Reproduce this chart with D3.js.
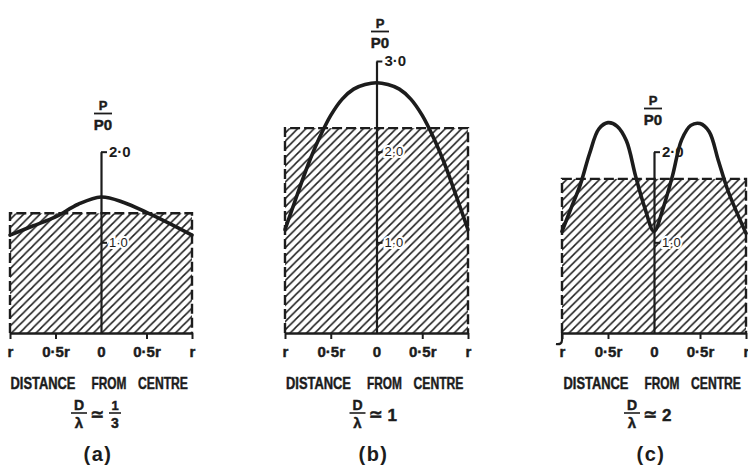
<!DOCTYPE html>
<html>
<head>
<meta charset="utf-8">
<script src="https://cdn.jsdelivr.net/npm/d3@7"></script>
<style>
  html, body { margin: 0; padding: 0; background: #fff; }
  svg { display: block; }
  text { font-family: 'Liberation Sans', 'DejaVu Sans', Arial, sans-serif; font-weight: bold; fill: #1c1c1c; }
  text.heavy { stroke: #1c1c1c; stroke-width: 0.45px; }
</style>
</head>
<body>
<svg id="chart" width="748" height="465"></svg>
<script>
// ---- data -------------------------------------------------------------
const panelNames = ["(a)", "(b)", "(c)"];
const ratioTexts = [["1", "3"], ["1"], ["2"]];          // D/λ ≃ value
const meanPower = [1.32, 2.26, 1.70];                    // height of hatched block
const axisMax = [2, 3, 2];
const axisTicks = [[1, 2], [1, 2, 3], [1, 2]];
const xTickValues = [-1, -0.5, 0, 0.5, 1];
const xTickLabels = ["r", "0·5r", "0", "0·5r", "r"];
const titleWords = ["DISTANCE", "FROM", "CENTRE"];

// relative distance from centre (-1 = edge r, 0 = centre) and P/P0
const distA  = [-1, -0.75, -0.5, -0.25, 0, 0.25, 0.5, 0.75, 1];
const powerA = [1.08, 1.18, 1.28, 1.42, 1.50, 1.44, 1.33, 1.21, 1.08];

const distB  = [-1, -0.875, -0.75, -0.625, -0.5, -0.375, -0.25, -0.125, 0,
                0.125, 0.25, 0.375, 0.5, 0.625, 0.75, 0.875, 1];
const powerB = [1.14, 1.50, 1.85, 2.15, 2.40, 2.58, 2.69, 2.74, 2.76,
                2.74, 2.69, 2.58, 2.40, 2.15, 1.85, 1.50, 1.14];

const distC  = [-1, -0.9, -0.8, -0.7, -0.6, -0.5, -0.4, -0.3, -0.2, -0.1, 0,
                0.1, 0.2, 0.3, 0.4, 0.5, 0.6, 0.7, 0.8, 0.9, 1];
const powerC = [1.12, 1.38, 1.64, 1.98, 2.25, 2.32, 2.28, 2.12, 1.73, 1.38, 1.12,
                1.38, 1.73, 2.13, 2.29, 2.31, 2.22, 1.90, 1.58, 1.33, 1.10];

const dists = [distA, distB, distC];
const powers = [powerA, powerB, powerC];

// ---- layout -----------------------------------------------------------
const ink = "#1c1c1c";
const panelLeft = [10, 285, 562];
const panelRight = [192, 468, 746];
const pLabelX = [103, 380, 653];
const pLabelBase = [110, 28, 105];
const ratioShift = [-22, -19, -22];
const wordOffset = [-58, 8, 62];
const wordWidth = [65, 35, 50];

const svg = d3.select("#chart");
svg.append("rect").attr("width", 748).attr("height", 465).attr("fill", "#fff");

const defs = svg.append("defs");
const hatch = defs.append("pattern")
  .attr("id", "hatch")
  .attr("patternUnits", "userSpaceOnUse")
  .attr("width", 8.2).attr("height", 8.2);
hatch.append("path")
  .attr("d", "M-2,2L2,-2M0,8.2L8.2,0M6.2,10.2L10.2,6.2")
  .attr("stroke", ink).attr("stroke-width", 1.5);

const y = d3.scaleLinear().domain([0, 3]).range([333, 61]);
const fmt = d => d.toFixed(1).replace(".", "·");

panelNames.forEach((name, i) => {
  const x = d3.scaleLinear().domain([-1, 1]).range([panelLeft[i], panelRight[i]]);
  const g = svg.append("g");
  const mean = meanPower[i];

  // hatched block showing the mean power level
  g.append("rect")
    .attr("x", x(-1)).attr("y", y(mean))
    .attr("width", x(1) - x(-1)).attr("height", y(0) - y(mean))
    .attr("fill", "url(#hatch)");
  g.append("path")
    .attr("d", `M${x(-1)},${y(0)}V${y(mean)}H${x(1)}V${y(0)}`)
    .attr("fill", "none").attr("stroke", ink)
    .attr("stroke-width", 2.4).attr("stroke-dasharray", "10,4");

  // distance axis
  const xa = g.append("g")
    .attr("transform", `translate(0,${y(0)})`)
    .call(d3.axisBottom(x).tickValues(xTickValues)
      .tickFormat((d, j) => xTickLabels[j])
      .tickSize(6).tickSizeOuter(0).tickPadding(7));
  xa.select(".domain").attr("stroke", ink).attr("stroke-width", 2.6);
  xa.selectAll(".tick line").attr("stroke", ink).attr("stroke-width", 2);
  xa.selectAll(".tick").filter(d => d === 0).select("line").remove();
  xa.selectAll(".tick text").attr("class", "heavy").style("font-size", "15px");

  if (i === 2) {
    g.append("path")
      .attr("d", `M${x(-1)},${y(0)}v7q0,5 -6,4`)
      .attr("fill", "none").attr("stroke", ink).attr("stroke-width", 2.2);
  }

  // power axis through the centre
  const yAx = y.copy().domain([0, axisMax[i]]).range([y(0), y(axisMax[i])]);
  const ya = g.append("g")
    .attr("transform", `translate(${x(0)},0)`)
    .call(d3.axisRight(yAx).tickValues(axisTicks[i]).tickFormat(fmt)
      .tickSize(6).tickSizeOuter(0).tickPadding(2));
  ya.select(".domain").attr("stroke", ink).attr("stroke-width", 2.2);
  ya.selectAll(".tick line").attr("stroke", ink).attr("stroke-width", 2);
  ya.selectAll(".tick text")
    .style("font-size", d => d === axisMax[i] ? "15px" : "13px")
    .style("font-weight", d => d === axisMax[i] ? "bold" : "normal")
    .attr("stroke", "#fff").attr("stroke-width", 4)
    .attr("paint-order", "stroke");

  // measured power profile
  const pts = dists[i].map((d, j) => [d, powers[i][j]]);
  g.append("path")
    .datum(pts)
    .attr("d", d3.line().x(d => x(d[0])).y(d => y(d[1])).curve(d3.curveCatmullRom))
    .attr("fill", "none").attr("stroke", ink)
    .attr("stroke-width", 3.6).attr("stroke-linecap", "round")
    .attr("stroke-linejoin", "round");

  // P / P0 label
  const px = pLabelX[i], pb = pLabelBase[i];
  g.append("text").attr("x", px).attr("y", pb).attr("text-anchor", "middle")
    .attr("class", "heavy").style("font-size", "13px").text("P");
  g.append("line").attr("x1", px - 9).attr("x2", px + 9)
    .attr("y1", pb + 3.5).attr("y2", pb + 3.5)
    .attr("stroke", ink).attr("stroke-width", 1.8);
  g.append("text").attr("x", px).attr("y", pb + 20).attr("text-anchor", "middle")
    .attr("class", "heavy").style("font-size", "15px").text("P0");

  // axis title, three condensed words
  const cx = (x(-1) + x(1)) / 2;
  titleWords.forEach((w, k) => {
    const t = g.append("text")
      .attr("text-anchor", "middle").attr("class", "heavy")
      .style("font-size", "16px").text(w);
    const natural = t.node().getComputedTextLength();
    t.attr("transform",
      `translate(${cx + wordOffset[k]},389) scale(${wordWidth[k] / natural},1)`);
  });

  // D/λ ≃ value
  const fx = cx + ratioShift[i];
  g.append("text").attr("x", fx).attr("y", 410).attr("text-anchor", "middle")
    .attr("class", "heavy").style("font-size", "14px").text("D");
  g.append("line").attr("x1", fx - 8).attr("x2", fx + 8).attr("y1", 413).attr("y2", 413)
    .attr("stroke", ink).attr("stroke-width", 1.6);
  g.append("text").attr("x", fx).attr("y", 428).attr("text-anchor", "middle")
    .attr("class", "heavy").style("font-size", "15px").text("λ");
  g.append("text").attr("x", fx + 18).attr("y", 420).attr("text-anchor", "middle")
    .attr("class", "heavy").style("font-size", "17px").text("≃");
  const r = ratioTexts[i];
  if (r.length === 2) {
    g.append("text").attr("x", fx + 36).attr("y", 410).attr("text-anchor", "middle")
      .attr("class", "heavy").style("font-size", "13px").text(r[0]);
    g.append("line").attr("x1", fx + 30).attr("x2", fx + 42).attr("y1", 413).attr("y2", 413)
      .attr("stroke", ink).attr("stroke-width", 1.6);
    g.append("text").attr("x", fx + 36).attr("y", 428).attr("text-anchor", "middle")
      .attr("class", "heavy").style("font-size", "14px").text(r[1]);
  } else {
    g.append("text").attr("x", fx + 30).attr("y", 421).attr("text-anchor", "start")
      .attr("class", "heavy").style("font-size", "17px").text(r[0]);
  }

  // panel letter
  g.append("text").attr("x", cx - 3).attr("y", 461).attr("text-anchor", "middle")
    .attr("letter-spacing", 1.5)
    .style("font-size", "20px").text(name);
});
</script>
</body>
</html>
